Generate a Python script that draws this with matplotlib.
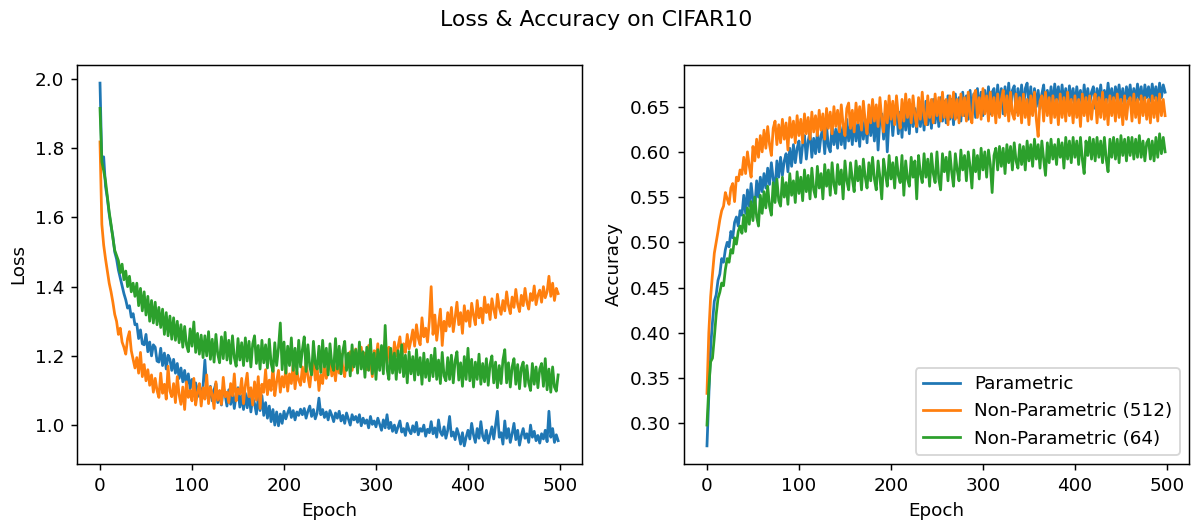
import numpy as np
import matplotlib
matplotlib.use("Agg")
import matplotlib.pyplot as plt

# Epochs sampled every 2 steps over a 500-epoch run
epochs = np.arange(0, 500, 2)

# Loss curves (values in thousandths), one row per 20 epochs
loss_parametric = np.array([
    1988, 1760, 1775, 1690, 1655, 1610, 1575, 1545, 1500, 1480,
    1448, 1425, 1402, 1380, 1362, 1338, 1345, 1312, 1322, 1290,
    1292, 1250, 1275, 1235, 1232, 1262, 1212, 1240, 1200, 1232,
    1225, 1185, 1182, 1222, 1172, 1208, 1162, 1202, 1190, 1158,
    1190, 1150, 1178, 1135, 1165, 1125, 1158, 1115, 1148, 1105,
    1132, 1098, 1122, 1082, 1118, 1080, 1112, 1188, 1102, 1072,
    1112, 1070, 1102, 1120, 1065, 1098, 1058, 1110, 1088, 1055,
    1102, 1060, 1095, 1048, 1088, 1108, 1052, 1085, 1045, 1092,
    1050, 1090, 1038, 1080, 1062, 1032, 1078, 1042, 1085, 1028,
    1065, 1020, 1055, 1010, 1045, 1000, 1038, 998, 1032, 1005,
    1040, 1018, 1035, 1050, 1022, 1042, 1015, 1038, 1028, 1046,
    1030, 1048, 1020, 1040, 1055, 1025, 1045, 1018, 1035, 1078,
    1030, 1045, 1022, 1038, 1015, 1042, 1028, 1010, 1035, 1020,
    1040, 1012, 1028, 1005, 1035, 1018, 1000, 1030, 1015, 1025,
    1008, 1030, 998, 1020, 1005, 1015, 992, 1025, 1002, 1012,
    995, 1020, 1002, 985, 1015, 992, 1030, 990, 1008, 982,
    1000, 978, 995, 1012, 980, 990, 970, 1005, 985, 975,
    998, 980, 1008, 972, 990, 982, 1000, 968, 988, 978,
    1010, 975, 992, 965, 1015, 980, 970, 995, 962, 985,
    1025, 968, 980, 958, 990, 972, 945, 978, 940, 965,
    985, 960, 1005, 972, 950, 990, 962, 1010, 968, 955,
    985, 948, 972, 995, 960, 1000, 1040, 965, 978, 945,
    1012, 962, 990, 950, 975, 1005, 958, 985, 942, 970,
    990, 962, 975, 950, 1000, 965, 982, 955, 970, 948,
    975, 960, 985, 952, 1040, 965, 990, 950, 972, 955]) / 1000

loss_nonparam_512 = np.array([
    1818, 1580, 1520, 1480, 1445, 1410, 1385, 1355, 1320, 1300,
    1262, 1280, 1240, 1225, 1205, 1250, 1270, 1215, 1190, 1165,
    1195, 1150, 1210, 1140, 1175, 1128, 1160, 1115, 1145, 1095,
    1135, 1100, 1080, 1150, 1092, 1118, 1075, 1170, 1098, 1082,
    1120, 1065, 1140, 1088, 1060, 1110, 1045, 1125, 1080, 1100,
    1070, 1135, 1058, 1095, 1120, 1055, 1108, 1075, 1145, 1062,
    1110, 1088, 1048, 1125, 1072, 1100, 1060, 1138, 1082, 1095,
    1065, 1120, 1085, 1148, 1070, 1105, 1090, 1135, 1062, 1115,
    1150, 1082, 1108, 1058, 1125, 1072, 1140, 1048, 1118, 1095,
    1160, 1088, 1130, 1100, 1170, 1085, 1125, 1158, 1095, 1140,
    1110, 1165, 1098, 1148, 1120, 1175, 1105, 1155, 1130, 1115,
    1168, 1125, 1182, 1140, 1110, 1160, 1190, 1130, 1170, 1100,
    1145, 1120, 1185, 1135, 1160, 1195, 1142, 1175, 1128, 1190,
    1150, 1205, 1165, 1140, 1198, 1172, 1212, 1158, 1190, 1220,
    1168, 1200, 1225, 1175, 1208, 1160, 1230, 1185, 1140, 1215,
    1190, 1235, 1172, 1218, 1195, 1245, 1180, 1225, 1205, 1170,
    1240, 1200, 1228, 1255, 1195, 1235, 1210, 1262, 1220, 1245,
    1275, 1228, 1290, 1250, 1232, 1310, 1255, 1280, 1240, 1300,
    1400, 1262, 1318, 1245, 1290, 1335, 1230, 1300, 1272, 1325,
    1285, 1340, 1270, 1310, 1355, 1290, 1325, 1265, 1345, 1300,
    1330, 1285, 1352, 1318, 1290, 1360, 1310, 1338, 1295, 1370,
    1325, 1348, 1305, 1365, 1335, 1310, 1378, 1340, 1320, 1360,
    1330, 1385, 1345, 1322, 1370, 1340, 1392, 1350, 1328, 1375,
    1345, 1395, 1355, 1335, 1380, 1360, 1402, 1348, 1375, 1390,
    1355, 1400, 1368, 1385, 1430, 1372, 1410, 1360, 1395, 1380]) / 1000

loss_nonparam_64 = np.array([
    1915, 1760, 1735, 1705, 1660, 1615, 1580, 1540, 1505, 1490,
    1475, 1440, 1465, 1420, 1445, 1400, 1430, 1385, 1410, 1372,
    1410, 1345, 1395, 1330, 1385, 1318, 1372, 1300, 1360, 1295,
    1355, 1290, 1340, 1282, 1335, 1262, 1325, 1258, 1315, 1248,
    1310, 1245, 1300, 1238, 1290, 1225, 1285, 1232, 1212, 1278,
    1228, 1298, 1210, 1265, 1205, 1260, 1195, 1258, 1200, 1270,
    1190, 1248, 1182, 1262, 1205, 1180, 1255, 1192, 1268, 1188,
    1245, 1178, 1258, 1195, 1170, 1250, 1188, 1238, 1172, 1252,
    1185, 1242, 1168, 1235, 1258, 1178, 1230, 1162, 1245, 1180,
    1232, 1165, 1248, 1178, 1155, 1238, 1172, 1222, 1295, 1160,
    1240, 1150, 1228, 1172, 1252, 1158, 1222, 1148, 1245, 1168,
    1218, 1255, 1155, 1232, 1170, 1145, 1242, 1178, 1162, 1228,
    1152, 1245, 1168, 1222, 1145, 1235, 1175, 1158, 1250, 1162,
    1228, 1148, 1215, 1242, 1158, 1208, 1142, 1232, 1168, 1218,
    1150, 1240, 1162, 1212, 1138, 1225, 1158, 1248, 1148, 1208,
    1132, 1218, 1158, 1230, 1148, 1288, 1162, 1132, 1222, 1150,
    1208, 1132, 1215, 1152, 1232, 1140, 1202, 1122, 1212, 1148,
    1198, 1130, 1218, 1145, 1195, 1118, 1208, 1138, 1190, 1128,
    1202, 1140, 1222, 1132, 1188, 1120, 1210, 1142, 1128, 1195,
    1132, 1202, 1122, 1185, 1212, 1130, 1180, 1112, 1198, 1132,
    1222, 1128, 1190, 1110, 1182, 1132, 1205, 1118, 1178, 1125,
    1192, 1115, 1175, 1200, 1122, 1182, 1108, 1172, 1120, 1188,
    1218, 1122, 1180, 1110, 1168, 1192, 1118, 1175, 1105, 1165,
    1182, 1112, 1172, 1122, 1100, 1178, 1118, 1168, 1108, 1162,
    1178, 1112, 1192, 1102, 1162, 1095, 1168, 1110, 1098, 1145]) / 1000

# Accuracy curves (values in thousandths), one row per 20 epochs
acc_parametric = np.array([
    275, 330, 385, 412, 435, 442, 458, 465, 482, 478,
    492, 500, 495, 512, 505, 522, 528, 518, 535, 530,
    552, 532, 558, 540, 565, 546, 538, 568, 550, 572,
    556, 576, 560, 582, 564, 588, 570, 558, 590, 572,
    594, 574, 590, 598, 578, 604, 584, 608, 588, 604,
    612, 588, 608, 618, 592, 612, 622, 594, 615, 598,
    622, 600, 618, 626, 598, 628, 606, 600, 630, 608,
    625, 604, 632, 608, 628, 604, 636, 612, 630, 608,
    638, 612, 632, 606, 640, 614, 636, 610, 642, 618,
    638, 612, 644, 602, 636, 642, 614, 646, 600, 638,
    646, 618, 642, 648, 620, 644, 616, 650, 624, 646,
    620, 652, 628, 648, 622, 654, 628, 650, 624, 656,
    630, 652, 626, 658, 632, 654, 628, 660, 634, 656,
    632, 662, 636, 658, 630, 664, 638, 660, 634, 666,
    640, 662, 636, 668, 642, 664, 638, 670, 644, 666,
    640, 668, 646, 672, 642, 666, 670, 644, 674, 648,
    670, 642, 672, 650, 676, 646, 668, 673, 644, 670,
    650, 674, 646, 670, 676, 648, 672, 642, 670, 650,
    668, 648, 664, 674, 646, 668, 652, 672, 650, 675,
    656, 672, 650, 674, 654, 670, 646, 673, 656, 670,
    650, 672, 656, 668, 648, 674, 654, 670, 652, 666,
    672, 648, 670, 656, 674, 652, 668, 654, 676, 656,
    670, 650, 672, 658, 674, 654, 670, 648, 672, 658,
    674, 654, 670, 656, 675, 658, 672, 652, 674, 660,
    672, 656, 675, 659, 672, 654, 676, 660, 674, 666]) / 1000

acc_nonparam_512 = np.array([
    333, 400, 440, 465, 488, 500, 512, 525, 535, 540,
    555, 548, 542, 560, 565, 545, 572, 568, 580, 575,
    594, 576, 600, 584, 572, 606, 590, 614, 594, 618,
    600, 624, 604, 628, 608, 596, 626, 634, 608, 630,
    610, 636, 614, 632, 602, 638, 616, 634, 610, 640,
    618, 636, 610, 642, 620, 638, 614, 644, 622, 640,
    618, 646, 624, 642, 614, 648, 626, 644, 620, 650,
    628, 646, 622, 652, 630, 618, 648, 654, 626, 646,
    622, 654, 632, 650, 624, 656, 634, 620, 652, 632,
    658, 634, 652, 628, 660, 636, 622, 656, 632, 662,
    636, 656, 630, 662, 640, 626, 658, 634, 664, 638,
    658, 632, 662, 640, 628, 660, 636, 666, 640, 630,
    662, 638, 658, 632, 664, 640, 660, 634, 666, 638,
    658, 630, 662, 638, 666, 636, 658, 632, 664, 640,
    660, 634, 666, 640, 632, 662, 668, 638, 660, 636,
    670, 642, 662, 634, 666, 640, 660, 632, 664, 638,
    658, 668, 640, 662, 634, 666, 642, 636, 664, 640,
    660, 632, 664, 638, 658, 630, 662, 640, 666, 636,
    617, 656, 662, 634, 666, 640, 660, 632, 662, 638,
    658, 630, 664, 638, 660, 634, 666, 640, 658, 632,
    662, 638, 658, 628, 664, 640, 660, 634, 662, 636,
    656, 664, 632, 660, 638, 666, 636, 658, 630, 662,
    640, 660, 634, 664, 638, 658, 630, 662, 636, 656,
    660, 634, 664, 638, 658, 632, 662, 640, 660, 636,
    658, 632, 662, 638, 660, 634, 664, 640, 658, 640]) / 1000

acc_nonparam_64 = np.array([
    298, 340, 368, 372, 395, 420, 438, 445, 455, 452,
    470, 482, 478, 492, 488, 505, 498, 512, 518, 510,
    530, 512, 538, 520, 545, 524, 550, 528, 518, 552,
    532, 556, 538, 562, 540, 530, 566, 544, 570, 546,
    540, 572, 550, 566, 542, 576, 552, 568, 544, 578,
    554, 572, 546, 580, 556, 574, 548, 582, 558, 550,
    584, 560, 576, 548, 586, 562, 580, 552, 588, 564,
    554, 586, 564, 580, 548, 590, 568, 558, 588, 570,
    556, 590, 568, 584, 558, 592, 572, 560, 588, 568,
    594, 570, 558, 590, 572, 548, 592, 576, 562, 596,
    570, 588, 560, 594, 574, 566, 596, 552, 590, 570,
    562, 594, 572, 590, 548, 596, 576, 566, 598, 572,
    592, 562, 598, 576, 566, 600, 570, 558, 598, 578,
    594, 568, 600, 578, 562, 598, 580, 568, 602, 580,
    596, 568, 600, 584, 560, 602, 578, 596, 570, 604,
    580, 600, 572, 602, 586, 555, 596, 604, 580, 606,
    584, 604, 576, 608, 588, 606, 580, 610, 590, 582,
    608, 586, 606, 580, 612, 590, 608, 584, 614, 592,
    608, 582, 612, 592, 574, 610, 588, 614, 592, 608,
    586, 614, 594, 610, 582, 616, 592, 612, 588, 616,
    594, 612, 586, 616, 592, 576, 612, 596, 616, 592,
    614, 590, 616, 594, 612, 588, 616, 592, 578, 614,
    594, 616, 592, 614, 588, 618, 596, 614, 590, 616,
    596, 616, 592, 614, 594, 618, 594, 612, 590, 610,
    614, 592, 612, 590, 616, 594, 620, 598, 616, 600]) / 1000

series_labels = ["Parametric", "Non-Parametric (512)", "Non-Parametric (64)"]

fig = plt.figure(figsize=(1192 / 132, 524 / 132), dpi=132)
ax_loss = fig.add_axes([0.0646, 0.1145, 0.4237, 0.7615])
ax_acc = fig.add_axes([0.5738, 0.1145, 0.4237, 0.7615])

for values, label in zip([loss_parametric, loss_nonparam_512, loss_nonparam_64], series_labels):
    ax_loss.plot(epochs, values, label=label)
for values, label in zip([acc_parametric, acc_nonparam_512, acc_nonparam_64], series_labels):
    ax_acc.plot(epochs, values, label=label)

for ax in (ax_loss, ax_acc):
    ax.set_xlim(-25, 524)
    ax.set_xlabel("Epoch")

ax_loss.set_ylabel("Loss")
ax_acc.set_ylabel("Accuracy")
ax_acc.legend(loc="lower right")

fig.suptitle("Loss & Accuracy on CIFAR10", y=0.962, va="center")

fig.savefig("out.png", dpi=132)
